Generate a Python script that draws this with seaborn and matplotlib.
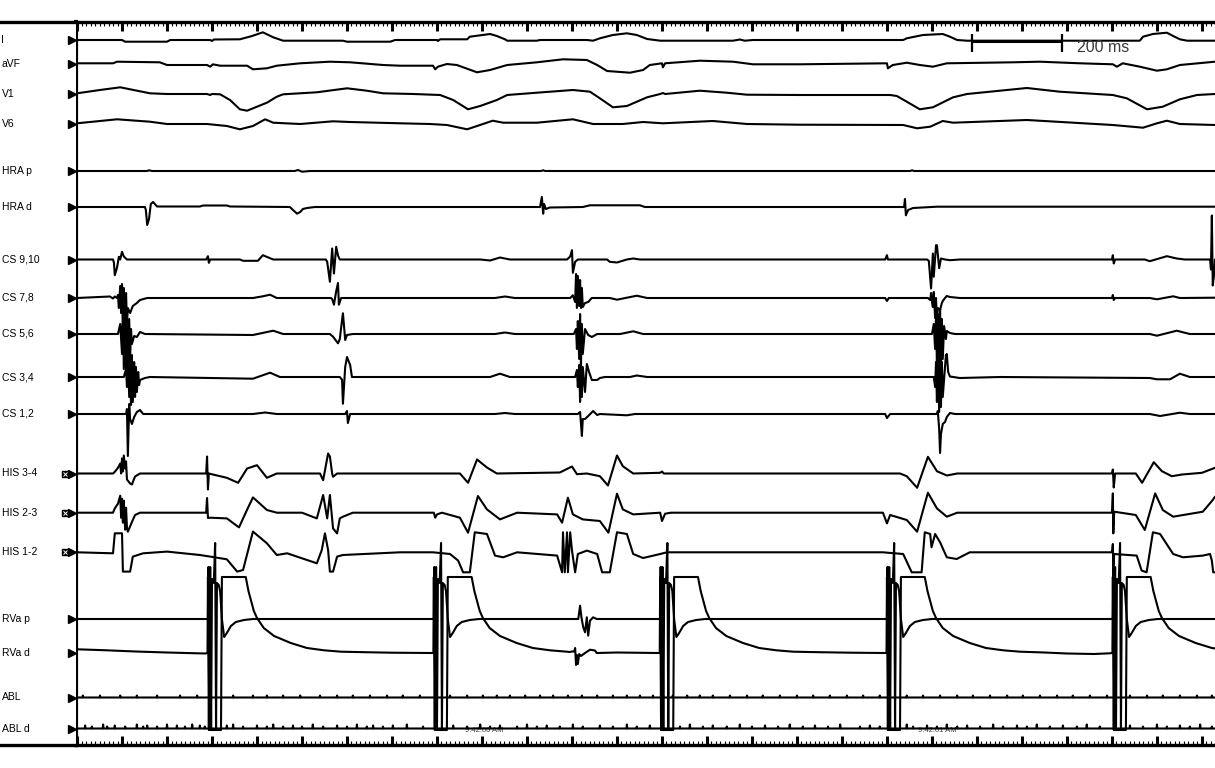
import pandas as pd
import seaborn as sns
import matplotlib.pyplot as plt
from matplotlib.ticker import MultipleLocator

# channels top to bottom
CHANNELS = ["I", "aVF", "V1", "V6", "HRA p", "HRA d", "CS 9,10", "CS 7,8", "CS 5,6",
            "CS 3,4", "CS 1,2", "HIS 3-4", "HIS 2-3", "HIS 1-2", "RVa p", "RVa d", "ABL", "ABL d"]
HIS_CHANNELS = ["HIS 3-4", "HIS 2-3", "HIS 1-2"]
RECORD_MS = 2529

# traces as (time ms, deflection), up is positive
I_PTS = [(0,0),(100,0),(107,-1.7),(200,-1.7),(207,0),(296,0),(300,-1),(304,0.5),(362,0.7),(389,4),(413,7.7),
         (436,2.7),(458,-0.7),(591,-0.7),(600,-1.7),(696,-1.7),(707,0),(800,0),(802,-1),(807,0.7),(867,0.7),
         (873,3.3),(918,6),(933,4),(951,0.7),(956,-0.7),(1022,-0.7),(1029,0),(1133,0),(1147,-0.7),(1162,1.7),
         (1191,5),(1222,6.7),(1244,5),(1267,1),(1296,-0.7),(1458,-0.7),(1473,0.5),(1484,-0.7),(1502,0),(1836,0),
         (1844,1.7),(1880,5),(1924,6),(1940,3.3),(1956,0),(1978,-0.7),(2362,-0.7),(2369,3.3),(2391,6),(2422,7.3),
         (2436,4),(2451,0.7),(2467,-0.7),(2529,-0.7)]
AVF_PTS = [(0,0.7),(80,0.7),(89,2.3),(184,1.7),(200,-1),(289,-1),(296,-2.7),(302,-0.3),(318,-1.7),(378,-1.7),
           (391,-5.3),(422,-4.3),(444,-1.7),(496,0.7),(562,2.3),(607,1.7),(680,-1),(718,-1.7),(791,-1.7),
           (796,-5.3),(802,-2.7),(822,0),(844,-1),(889,-8.3),(918,-6),(956,-1),(1022,1.7),(1080,4.7),(1133,4),
           (1156,-1),(1178,-7),(1229,-8.7),(1258,-6),(1273,-1),(1300,0.7),(1302,-3.3),(1307,0.7),(1384,3.3),
           (1458,2.3),(1502,-0.3),(1607,-0.3),(1800,0.7),(1802,-4.3),(1813,-1),(1844,1.3),(1873,-1),(1902,-2.7),
           (1933,0.7),(2080,1.7),(2140,2.3),(2229,0.7),(2302,-0.3),(2311,-2.7),(2324,0.7),(2362,-2.7),(2400,-6.7),
           (2422,-5.3),(2451,-1),(2529,2.3)]
V1_PTS = [(0,0.7),(51,4),(96,6.7),(162,0.7),(200,0),(289,0),(296,-1),(300,0),(318,-0.3),(340,-6),(362,-15.3),
          (378,-16.7),(400,-12.7),(422,-8.7),(444,-2.7),(458,-0.3),(533,1.7),(600,5.7),(644,3.3),(680,0.7),
          (747,0),(807,-1),(836,-6),(869,-15.3),(896,-12),(933,-6),(956,-1),(1022,1.3),(1102,4),(1140,2.3),
          (1162,-4.3),(1191,-13.3),(1222,-12),(1267,-3.3),(1296,0),(1302,1),(1307,0),(1384,3.3),(1444,1.3),
          (1489,-0.7),(1607,-1),(1807,-1),(1822,-2),(1844,-7.7),(1873,-15.3),(1902,-13.3),(1947,-3.3),(1978,0),
          (2111,6),(2184,2.3),(2302,-1),(2333,-4.3),(2378,-15.3),(2413,-12.7),(2451,-5.3),(2489,-1),(2529,0)]
V6_PTS = [(0,0.7),(89,4.7),(162,2.3),(200,0),(289,0),(333,-2),(362,-5.3),(391,-2),(418,4.7),(436,1.3),(496,0),
          (569,2.7),(607,2),(718,0.7),(784,0),(822,-1),(867,-5.3),(889,-2),(924,3.3),(947,1.3),(1022,1.3),
          (1102,4.7),(1147,0),(1213,0),(1258,2),(1302,0.7),(1413,3),(1489,0),(1607,-0.7),(1836,-1),(1867,-4.3),
          (1896,-2.7),(1924,3),(1947,1.3),(2111,4),(2302,-1),(2369,-3.7),(2400,0.7),(2422,3.3),(2451,0),(2529,-1)]
HRA_P_PTS = [(0,0),(156,0),(160,0.7),(167,0),(484,0),(491,1),(500,-0.7),(518,0),(1031,0),(1036,0.7),(1040,0),
             (1851,0),(1856,0.7),(1860,0),(2529,0)]
HRA_D_PTS = [(0,0),(151,0),(153,-3),(156,-18),(160,-12),(164,3),(169,5),(173,3),(178,0.5),(273,0.5),(280,1.5),
             (333,1.5),(340,0.5),(473,0),(480,-3),(489,-6.7),(496,-5),(502,-2),(511,-1),(529,0),(1029,0),(1033,10),
             (1036,-6.7),(1038,3),(1042,-2),(1051,-0.5),(1124,0),(1140,1.7),(1251,1.7),(1262,0),(1838,0),(1840,8),
             (1842,-8.3),(1847,-3),(1858,-1),(1911,0.3),(2529,0.3)]
CS910_PTS = [(0,0),(80,0),(82,-3),(84,-15.7),(89,-8),(93,2.7),(96,0),(100,7.7),(104,3),(111,0),(287,0),(291,3.3),
             (293,-3.3),(296,0),(362,0),(369,-1.3),(402,-1.3),(413,4.3),(436,0),(553,0),(556,-2.3),(562,-22.3),
             (567,11),(571,-14),(576,12.7),(580,4),(584,0),(896,0),(918,-1),(940,2),(962,0),(1089,0),(1096,3),
             (1100,9.3),(1102,-13.3),(1107,-2.3),(1113,0),(1178,0),(1184,-2.3),(1200,-3),(1222,0),(1236,1),(1251,0),
             (1796,0),(1800,4.3),(1802,0),(1889,0),(1893,-1.3),(1898,-29),(1902,6),(1904,-17.3),(1909,14.3),
             (1911,14.3),(1916,-8.7),(1920,1),(1929,0),(1940,-0.7),(1962,0),(2300,0),(2302,4.3),(2304,-4),(2307,0),
             (2373,0),(2384,-1.7),(2422,3.3),(2444,1),(2462,0),(2518,0),(2520,-10),(2522,44),(2524,-26),(2527,-15),
             (2529,0)]
CS78_PTS = [(0,0),(73,1.5),(80,-0.5),(84,1.5),(89,0),(91,3),(93,-10),(96,12),(98,-15),(100,14),(102,-20),(104,10),
            (107,-30),(109,5),(111,-25),(113,-10),(118,-15),(124,-8),(133,-5),(140,-2),(156,0),(391,0),(413,1.7),
            (429,3.3),(444,0),(564,0),(567,-1),(571,-6.7),(576,6.7),(580,15),(582,-6.7),(587,0),(929,0),(951,1.5),
            (973,0),(1096,0),(1102,2.7),(1107,-4),(1109,24),(1111,-10),(1113,22),(1116,-8),(1118,18),(1120,-10),
            (1122,10),(1124,-9),(1129,-5),(1136,-4),(1144,0),(1184,0),(1200,-1.7),(1244,2.3),(1267,0),(1796,0),
            (1800,-3),(1804,0),(1891,0),(1896,-2),(1898,5),(1900,-4),(1902,-9),(1904,6),(1907,-20),(1909,0),
            (1911,-25),(1913,-10),(1918,-12),(1922,-5),(1924,-3),(1929,0),(1933,2),(1940,1),(1962,0),(2300,0),
            (2302,3),(2304,-2),(2307,0),(2384,0),(2400,-1.3),(2436,1.7),(2451,0),(2529,0.3)]
CS56_PTS = [(0,0),(91,0),(96,10),(100,-20),(102,30),(104,-35),(107,25),(109,-38),(111,20),(113,-30),(116,15),
            (118,-25),(120,5),(122,-10),(127,-2),(133,-3),(140,2),(151,0),(391,-1),(436,3.3),(458,0),(562,0),
            (569,-2.7),(580,-9.3),(584,-5),(589,14),(591,20.7),(596,-6),(600,-1),(613,0),(929,0),(951,1.5),(973,0),
            (1104,0),(1109,5),(1111,-15),(1113,13),(1116,-25),(1118,20),(1120,-30),(1122,10),(1124,-20),(1129,5),
            (1136,-1),(1144,-3),(1156,0),(1207,0),(1236,2.7),(1258,0),(1900,0),(1904,10),(1907,-15),(1909,18),
            (1911,-30),(1913,20),(1916,-40),(1918,25),(1920,-35),(1922,15),(1924,-25),(1927,8),(1931,-5),(1933,3),
            (1940,1),(1951,0),(2384,0),(2400,-1.7),(2444,3.3),(2473,0),(2529,0)]
CS34_PTS = [(0,0),(104,0),(109,8),(111,-10),(113,25),(116,-20),(118,20),(120,-28),(122,22),(124,-25),(127,15),
            (129,-20),(131,10),(133,-15),(136,5),(138,-8),(140,-3),(151,-1),(162,0),(391,-1.7),(429,4.3),(451,0),
            (584,0),(589,-2.7),(591,-26.7),(596,10),(600,20),(607,12),(611,0),(918,0),(940,3.3),(962,0),(1107,0),
            (1111,7),(1113,-10),(1116,12),(1118,-25),(1120,15),(1122,-20),(1124,10),(1129,-15),(1133,13),(1138,5),
            (1144,-3),(1156,-3),(1162,-1),(1173,0),(1229,0),(1244,1.5),(1267,0),(1904,0),(1907,-10),(1909,15),
            (1911,-25),(1913,20),(1916,-35),(1918,25),(1920,-30),(1922,15),(1924,-20),(1929,10),(1931,22),(1933,23),
            (1936,5),(1940,0.5),(1962,-1),(2051,0),(2384,-1),(2400,-2.3),(2429,-2.3),(2451,3.3),(2473,0),(2529,0)]
CS12_PTS = [(0,0),(109,0),(111,5),(113,-42),(116,10),(118,-5),(122,-10),(127,-3),(133,2),(140,4),(147,0),(391,0),
            (418,1.5),(444,0),(596,0),(600,3),(602,-9),(607,0),(929,0),(951,1),(973,0),(1113,0),(1118,2),(1120,-10),
            (1122,-22),(1124,-5),(1129,-5),(1136,-2),(1147,3),(1156,-1),(1162,0),(1222,-1.3),(1240,0),(1796,0),
            (1800,-4),(1807,0),(1911,0),(1913,3),(1916,-15),(1918,-39),(1920,-20),(1924,-10),(1929,-8),(1933,-3),
            (1940,1),(1951,0),(2384,0),(2407,-2),(2451,1.3),(2473,0),(2529,0)]
HIS34_PTS = [(0,0),(80,0),(84,1.7),(91,5.7),(96,10),(98,0),(100,15),(102,2),(104,18),(107,5),(109,12),(111,-6),
             (118,-10),(122,-11),(129,-3),(140,0),(287,0),(289,17),(291,-16),(293,0),(302,-1),(333,-4.3),(358,-9.3),
             (378,5),(400,8.3),(422,-4.3),(444,0),(540,0),(547,-6.7),(558,20),(562,17),(567,0),(569,-3.3),(578,0),
             (851,0),(869,-9.3),(889,14),(911,6),(933,0),(1073,1),(1100,7),(1111,-0.7),(1133,0),(1162,-2.7),
             (1180,-12),(1200,18),(1213,7.3),(1236,0),(1296,0.7),(1300,2),(1304,0),(1829,0),(1844,-2.7),(1867,-14.3),
             (1891,16.7),(1911,2.3),(1933,-2),(1956,0),(2300,0),(2302,4),(2304,-14),(2307,0),(2353,0),(2367,-9.3),
             (2393,11.3),(2411,2.3),(2433,-2.7),(2456,-1),(2500,0.7),(2529,5.7)]
HIS23_PTS = [(0,0),(80,0),(84,4.3),(91,9),(96,17),(98,-5),(100,14),(102,-10),(104,12),(107,-17),(109,5),(111,-15),
             (113,-19),(122,-9.3),(129,-2.3),(140,0),(287,0),(289,14.7),(291,-5.3),(296,-5),(333,-5.7),(360,-14.7),
             (378,3),(391,15.3),(422,2.7),(444,0),(500,0),(533,-5.7),(547,17.7),(556,-5.7),(562,17.7),(569,-15.7),
             (578,-20.7),(584,-5.7),(591,-4),(613,0),(793,0),(796,-5),(800,-1.7),(811,0),(851,-5),(869,-20),
             (891,16.7),(911,3.3),(940,-6.7),(978,0),(1067,-1.7),(1078,-10),(1091,15),(1102,-1.7),(1124,-6.7),
             (1162,-8.3),(1181,-20),(1200,19),(1213,3.3),(1236,-1.7),(1296,0),(1300,-8.3),(1307,-1),(1320,0),
             (1791,0),(1800,-10.7),(1807,-2.3),(1844,-7.3),(1867,-19),(1891,20),(1911,4.3),(1933,-4),(1956,0),
             (2300,0),(2302,19.3),(2303,-20.7),(2305,1),(2353,-2.3),(2373,-17.3),(2396,19.3),(2413,2.7),(2436,-4),
             (2502,1),(2524,12.7),(2529,16)]
HIS12_PTS = [(0,0),(80,-1),(84,19),(100,19),(102,-19.3),(118,-19.3),(124,-4.3),(147,-1),(200,0.7),(273,-2.7),
             (296,-4.3),(333,-7),(356,-19.3),(369,-17.7),(391,20.7),(422,9),(444,-2.7),(467,-1),(533,-11),(544,2.3),
             (551,19),(558,2.3),(562,-19.3),(569,-19.3),(578,-4.3),(591,-2.7),(718,0),(791,0),(829,-1.7),(847,-8.3),
             (858,-20),(873,-20),(884,20),(911,18.3),(929,-3.3),(947,-5),(978,0),(1067,-3.3),(1078,-20),(1080,20),
             (1084,-20),(1089,20),(1091,-20),(1096,20),(1100,1.7),(1107,-20),(1113,-1.7),(1133,1.7),(1156,-1.7),
             (1167,-20),(1184,-20),(1200,20),(1222,18.3),(1236,-1.7),(1258,-5.7),(1296,-1.7),(1311,0),(1791,0),
             (1836,-1.7),(1855,-20),(1877,-20),(1884,20),(1896,18.3),(1899,5),(1907,18.3),(1918,10),(1933,-5),
             (1955,-6.7),(1984,0),(2300,0),(2302,8.3),(2303,-18.3),(2305,-1.7),(2355,-3.3),(2366,-18.3),(2377,-20),
             (2391,20),(2407,18.3),(2436,-1.7),(2458,-5),(2502,-3.3),(2518,-1.7),(2522,-8.3),(2525,-20),(2529,-20)]
RVA_P_PTS = [(0,0),(285,0),(500,0),(1110,0),(1114,0),(1118,13.3),(1121,1.7),(1125,-8.3),(1129,-13.3),(1133,1.7),
             (1136,-16.7),(1140,-1.7),(1147,1.7),(1155,0),(1250,0),(1750,0),(2250,0),(2529,0)]
RVA_D_PTS = [(0,3.7),(60,2.8),(130,1.5),(200,0.5),(285,-0.5),(640,0.8),(700,0.3),(785,0),(1095,1),(1100,1.5),
             (1105,1.5),(1107,5),(1109,-12),(1111,-2),(1113,-11),(1116,-1),(1120,-3),(1129,0),(1140,3.3),(1151,2.5),
             (1155,0),(1200,0.5),(1290,0),(1650,0.8),(1720,0.3),(1795,0),(2150,0.5),(2200,-0.5),(2260,-1),(2295,-0.3)]

# RV apex pacing stimuli and the clipped artefact after each one (offset ms, deflection)
RV_PACE_MS = [291, 793, 1296, 1800, 2302]
RVA_P_PACE = [(-2,0),(0,0),(1,52),(3,-111),(5,52),(7,-111),(9,40),(13,36),(16,76),(18,-111),(20,36),(24,34),
              (27,28),(31,0),(36,-18),(42,-14),(51,-7),(62,-3),(80,-1),(100,0)]
RVA_D_PACE = [(-1,0),(0,76),(2,-77),(4,76),(6,-77),(29,-77),(31,76),(84,76),(90,62),(96,52),(102,42),(109,35),
              (124,25),(147,17),(184,10),(220,5),(258,2.7),(296,1.3)]

# ablation catheter noise spikes
ABL_TICKS_MS = [13,51,96,133,178,229,267,347,391,422,458,496,540,578,613,651,689,724,762,829,867,902,933,962,996,
                1029,1058,1091,1122,1156,1191,1222,1251,1280,1324,1356,1384,1413,1451,1489,1524,1562,1600,1636,1673,
                1711,1747,1784,1844,1880,1918,1956,1991,2029,2067,2102,2140,2178,2213,2251,2289,2340,2378,2413,2451,
                2489,2522]
ABL_TICK_H = 2
ABL_D_SPIKES = [(18,3),(33,2),(58,4),(67,2),(84,3),(107,2),(133,4),(147,2),(156,3),(178,2),(200,4),(222,3),(240,2),
                (256,4),(273,3),(284,2),(333,3),(347,4),(369,2),(400,3),(422,2),(436,4),(458,2),(480,3),(500,2),
                (524,4),(547,2),(578,3),(600,2),(622,4),(644,2),(658,3),(680,2),(702,3),(733,4),(769,2),(836,3),
                (867,2),(896,4),(918,2),(940,3),(978,2),(1000,4),(1022,2),(1044,3),(1073,2),(1102,4),(1124,2),
                (1162,3),(1191,2),(1222,4),(1244,2),(1273,3),(1340,2),(1362,4),(1391,2),(1413,3),(1444,2),(1473,4),
                (1500,2),(1529,3),(1558,2),(1584,4),(1613,2),(1640,3),(1669,2),(1696,4),(1740,2),(1762,3),(1784,2),
                (1844,4),(1858,2),(1889,3),(1911,2),(1933,4),(1956,2),(1978,3),(2007,2),(2036,4),(2058,2),(2089,3),
                (2111,2),(2133,4),(2162,2),(2191,3),(2222,2),(2244,4),(2273,2),(2340,3),(2369,2),(2400,4),(2422,2),
                (2451,3),(2473,2),(2496,4),(2522,2)]

TIMESTAMPS = [(862, "9:42:00 AM"), (1869, "9:42:01 AM")]
SCALE_BAR_MS = 200

# layout (pixels from top of the 1215x768 canvas)
W, H = 1215, 768
LEFT_PX, TOP_PX, BOT_PX = 76.2, 21.7, 745
ROW_Y = {"I": 40, "aVF": 64, "V1": 94, "V6": 124, "HRA p": 171, "HRA d": 207, "CS 9,10": 259.5,
         "CS 7,8": 298, "CS 5,6": 334, "CS 3,4": 377, "CS 1,2": 414, "HIS 3-4": 473.5, "HIS 2-3": 512.7,
         "HIS 1-2": 552.3, "RVa p": 619, "RVa d": 653, "ABL": 697.5, "ABL d": 728.5}


def paced(pts, template):
    out = list(pts)
    for p in RV_PACE_MS:
        out += [(p + dt, v) for dt, v in template]
    return sorted(out)


def with_spikes(spikes):
    pts = [(0, 0)]
    for t, h in spikes:
        pts += [(t - 1, 0), (t, h), (t + 1, 0)]
    pts.append((RECORD_MS, 0))
    return pts


signals = {
    "I": I_PTS, "aVF": AVF_PTS, "V1": V1_PTS, "V6": V6_PTS,
    "HRA p": HRA_P_PTS, "HRA d": HRA_D_PTS,
    "CS 9,10": CS910_PTS, "CS 7,8": CS78_PTS, "CS 5,6": CS56_PTS, "CS 3,4": CS34_PTS, "CS 1,2": CS12_PTS,
    "HIS 3-4": HIS34_PTS, "HIS 2-3": HIS23_PTS, "HIS 1-2": HIS12_PTS,
    "ABL": with_spikes([(t, ABL_TICK_H) for t in ABL_TICKS_MS]),
    "ABL d": with_spikes(ABL_D_SPIKES),
    "RVa d": paced(RVA_D_PTS, RVA_D_PACE),
    "RVa p": paced(RVA_P_PTS, RVA_P_PACE),
}

rows = []
for name, pts in signals.items():
    for t, v in pts:
        rows.append((name, t, ROW_Y[name] - v))
df = pd.DataFrame(rows, columns=["channel", "t", "y"])

sns.set_style("white")
plt.rcParams["font.family"] = ["Liberation Sans", "DejaVu Sans"]

fig = plt.figure(figsize=(W / 100, H / 100), dpi=100)
b = 1 - BOT_PX / H
h = (BOT_PX - TOP_PX) / H
ax = fig.add_axes([LEFT_PX / W, b, 1 - LEFT_PX / W, h])
lab = fig.add_axes([0, b, LEFT_PX / W, h], sharey=ax)

for t, s in TIMESTAMPS:
    ax.text(t, 731, s, fontsize=5.5, color="#444444", ha="left", va="center", zorder=1)

sns.lineplot(data=df, x="t", y="y", units="channel", estimator=None, sort=False,
             color="black", linewidth=1.5, ax=ax, legend=False)

ax.set_xlim(-1.8, RECORD_MS)
ax.set_ylim(BOT_PX, TOP_PX)
ax.set_xlabel("")
ax.set_ylabel("")
ax.set_yticks([])
ax.xaxis.set_major_locator(MultipleLocator(100))
ax.xaxis.set_minor_locator(MultipleLocator(10))
ax.tick_params(axis="x", which="major", direction="in", top=True, bottom=True,
               length=6.7, width=2.2, color="black", labelbottom=False)
ax.tick_params(axis="x", which="minor", direction="in", top=True, bottom=True,
               length=3, width=0.8, color="black")
ax.tick_params(axis="y", left=False, right=False)
for side in ["top", "bottom"]:
    ax.spines[side].set_linewidth(2.4)
    ax.spines[side].set_color("black")
ax.spines["left"].set_linewidth(3)
ax.spines["left"].set_color("black")
ax.spines["right"].set_visible(False)

# 200 ms calibration bar
sb0 = 1988
ax.plot([sb0, sb0 + SCALE_BAR_MS], [41.2, 41.2], color="black", lw=2.2, solid_capstyle="butt")
for x in (sb0, sb0 + SCALE_BAR_MS):
    ax.plot([x, x], [33.5, 51.5], color="black", lw=1.6, solid_capstyle="butt")
ax.text(sb0 + SCALE_BAR_MS + 34, 47.5, f"{SCALE_BAR_MS} ms", fontsize=11.5, color="#3a3a3a",
        ha="left", va="center")

# channel labels column
lab.set_xlim(0, LEFT_PX)
lab.set_xticks([])
lab.tick_params(axis="y", left=False, labelleft=False)
for side in ["left", "right"]:
    lab.spines[side].set_visible(False)
for side in ["top", "bottom"]:
    lab.spines[side].set_linewidth(2.4)
    lab.spines[side].set_color("black")
for name in CHANNELS:
    y = ROW_Y[name]
    lab.text(1.5, y, name, fontsize=7.5, ha="left", va="center", color="black")
    lab.plot([71.8], [y], marker=">", ms=5.5, color="black", ls="none")
    if name in HIS_CHANNELS:
        lab.plot([64.5], [y], marker="s", ms=4.8, color="black", ls="none")
        lab.plot([64.5], [y], marker="x", ms=2.4, mew=0.7, color="white", ls="none")

fig.savefig("out.png", dpi=100)
